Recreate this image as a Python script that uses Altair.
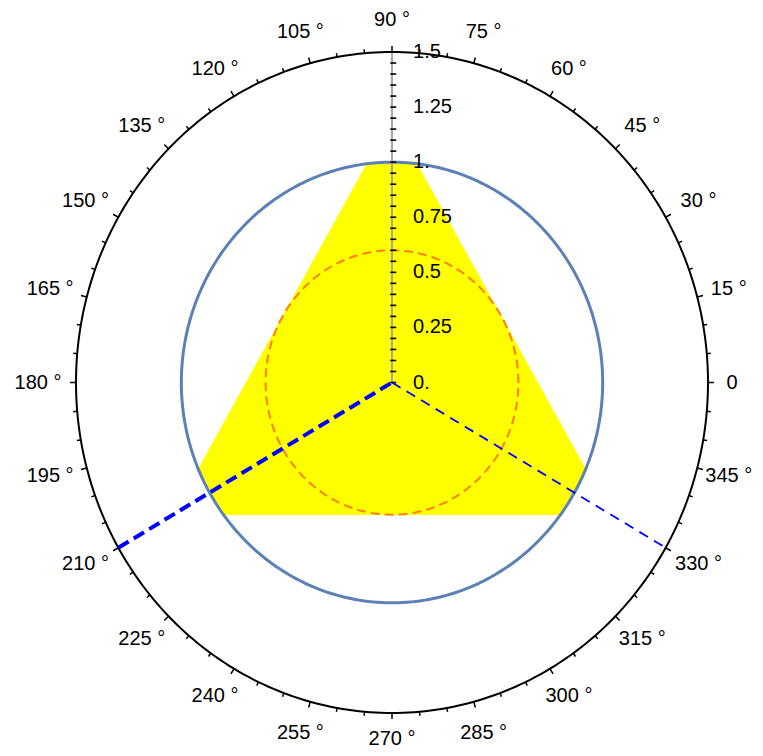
import altair as alt
import numpy as np
import pandas as pd

# ---------------- data ----------------
outer_r = 1.5
blue_circle_r = 1.0
orange_circle_r = 0.6

# truncated triangle (yellow region) vertices, polar (degrees, radius)
hex_theta = [83.4, 96.6, 203.4, 216.6, 323.4, 336.6]
hex_r = [1.0066, 1.0066, 1.0066, 1.0066, 1.0066, 1.0066]

# dashed blue rays
ray_thick_theta = 210
ray_thin_theta = 330
ray_r = 1.5

# angular axis
angle_tick_deg = list(range(0, 360, 5))
angle_label_deg = list(range(0, 360, 15))
angle_label_text = ["0", "15 °", "30 °", "45 °", "60 °", "75 °", "90 °", "105 °",
                    "120 °", "135 °", "150 °", "165 °", "180 °", "195 °", "210 °",
                    "225 °", "240 °", "255 °", "270 °", "285 °", "300 °", "315 °",
                    "330 °", "345 °"]

# radial axis
radial_tick_vals = [round(0.05 * i, 2) for i in range(31)]
radial_label_vals = [0, 0.25, 0.5, 0.75, 1.0, 1.25, 1.5]
radial_label_text = ["0.", "0.25", "0.5", "0.75", "1.", "1.25", "1.5"]

# ---------------- helpers ----------------
PX_X = 210.7  # pixels per unit (x)
PX_Y = 220.3  # pixels per unit (y)
FONT = "Liberation Sans"

xs = alt.Scale(domain=[-1.5, 1.5], nice=False, zero=False)
ys = alt.Scale(domain=[-1.5, 1.5], nice=False, zero=False)


def XY(fx="x", fy="y"):
    return dict(x=alt.X(f"{fx}:Q", scale=xs, axis=None),
                y=alt.Y(f"{fy}:Q", scale=ys, axis=None))


def circle_df(r):
    t = np.arange(0, 361, 1.0)
    return pd.DataFrame({"i": np.arange(len(t)),
                         "x": r * np.cos(np.radians(t)),
                         "y": r * np.sin(np.radians(t))})


# polygon
hex_df = pd.DataFrame({"i": range(len(hex_theta)),
                       "x": [r * np.cos(np.radians(t)) for t, r in zip(hex_theta, hex_r)],
                       "y": [r * np.sin(np.radians(t)) for t, r in zip(hex_theta, hex_r)]})
poly = alt.Chart(hex_df).mark_line(fill="#FFFF00", stroke="#FFFF00", strokeWidth=0.5).encode(
    order="i:Q", **XY())

blue_circle = alt.Chart(circle_df(blue_circle_r)).mark_line(
    color="#5E81B5", strokeWidth=3).encode(order="i:Q", **XY())
orange_circle = alt.Chart(circle_df(orange_circle_r)).mark_line(
    color="#FF8000", strokeWidth=2, strokeDash=[9, 5]).encode(order="i:Q", **XY())
outer_circle = alt.Chart(circle_df(outer_r)).mark_line(
    color="black", strokeWidth=2).encode(order="i:Q", **XY())

# angular ticks (outward)
tick_len = [6 if d % 15 == 0 else 4 for d in angle_tick_deg]
at_df = pd.DataFrame({
    "x": [outer_r * np.cos(np.radians(d)) for d in angle_tick_deg],
    "y": [outer_r * np.sin(np.radians(d)) for d in angle_tick_deg],
    "x2": [(outer_r + L / PX_X) * np.cos(np.radians(d)) for d, L in zip(angle_tick_deg, tick_len)],
    "y2": [(outer_r + L / PX_Y) * np.sin(np.radians(d)) for d, L in zip(angle_tick_deg, tick_len)],
})
angle_ticks = alt.Chart(at_df).mark_rule(color="black", strokeWidth=1.5).encode(
    x=alt.X("x:Q", scale=xs, axis=None), y=alt.Y("y:Q", scale=ys, axis=None),
    x2="x2:Q", y2="y2:Q")

# angular labels (ring pulled in slightly at the page edges so nothing is cut)
lab_rx = []
for d, s in zip(angle_label_deg, angle_label_text):
    if "°" not in s:
        lab_rx.append(1.614)
    elif d in (15, 345):
        lab_rx.append(1.655)
    else:
        lab_rx.append(1.68)
lab_ry = [1.618 if d == 270 else 1.645 for d in angle_label_deg]
al_df = pd.DataFrame({
    "t": angle_label_text,
    "x": [rx * np.cos(np.radians(d)) for d, rx in zip(angle_label_deg, lab_rx)],
    "y": [ry * np.sin(np.radians(d)) for d, ry in zip(angle_label_deg, lab_ry)],
})
angle_labels = alt.Chart(al_df).mark_text(
    font=FONT, fontSize=20, align="center", baseline="middle", color="black").encode(
    text="t:N", **XY())

# radial axis line
rad_line_df = pd.DataFrame({"x": [0, 0], "y": [0, outer_r]})
rad_line = alt.Chart(rad_line_df).mark_line(color="#ABA59F", strokeWidth=2).encode(**XY())

rt_df = pd.DataFrame({"y": radial_tick_vals,
                      "x": [-0.008] * len(radial_tick_vals),
                      "x2": [0.02] * len(radial_tick_vals)})
radial_ticks = alt.Chart(rt_df).mark_rule(color="black", strokeWidth=1.6).encode(
    x=alt.X("x:Q", scale=xs, axis=None), x2="x2:Q", y=alt.Y("y:Q", scale=ys, axis=None))

rl_df = pd.DataFrame({"y": radial_label_vals, "t": radial_label_text,
                      "x": [0.1] * len(radial_label_vals)})
radial_labels = alt.Chart(rl_df).mark_text(
    font=FONT, fontSize=20, align="left", baseline="middle", color="black").encode(
    text="t:N", **XY())

# rays
def ray_df(theta):
    return pd.DataFrame({"x": [0, ray_r * np.cos(np.radians(theta))],
                         "y": [0, ray_r * np.sin(np.radians(theta))]})

ray_thick = alt.Chart(ray_df(ray_thick_theta)).mark_line(
    color="#0000FF", strokeWidth=4, strokeDash=[12, 6]).encode(**XY())
ray_thin = alt.Chart(ray_df(ray_thin_theta)).mark_line(
    color="#0000FF", strokeWidth=1.8, strokeDash=[10, 7]).encode(**XY())

chart = alt.layer(
    poly, blue_circle, orange_circle, outer_circle, angle_ticks, rad_line,
    radial_ticks, ray_thick, ray_thin, radial_labels, angle_labels
).properties(
    width=632, height=661,
    autosize=alt.AutoSizeParams(type="none"),
    padding={"left": 68, "top": 44, "right": 47, "bottom": 35},
).configure_view(stroke=None)

chart.save("out.html", embed_options={"renderer": "svg", "actions": False})
